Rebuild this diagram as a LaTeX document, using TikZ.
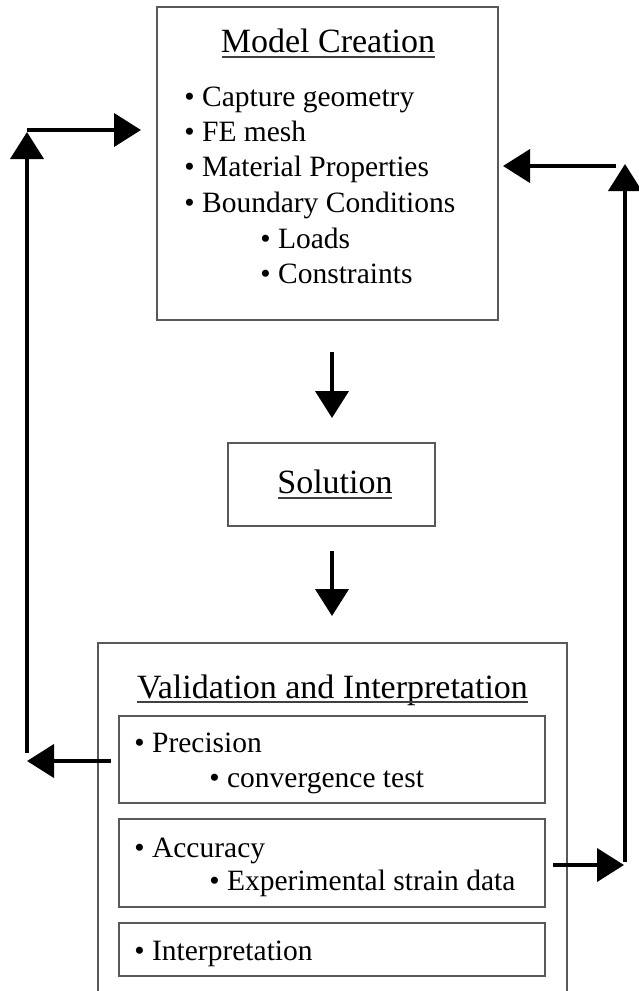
\documentclass[tikz,border=0pt]{standalone}
\usepackage{fontspec}
\setmainfont{Liberation Serif}
\usepackage{tikz}
\usetikzlibrary{arrows.meta,fit}

\newcommand{\ttlfont}{\fontsize{17}{20}\selectfont}
\newcommand{\itmfont}{\fontsize{14.75}{18}\selectfont}

\tikzset{
  box/.style={draw=black!65,line width=0.8pt,inner sep=0pt},
  ttl/.style={anchor=base,inner sep=0pt,font=\ttlfont},
  itm/.style={anchor=base west,inner sep=0pt,font=\itmfont},
  uline/.style={line width=0.7pt,draw=black!75},
  flow/.style={line width=2pt,-{Triangle[length=13.5pt,width=16.5pt]}}
}

\begin{document}
\begin{tikzpicture}[x=0.5pt,y=-0.5pt]
       \useasboundingbox (0,0) rectangle (638,991);

       %Model Creation
       \node[box,fit={(157,7) (498,320)}] (mc) {};
       \node[ttl] (mctitle) at (328,52) {Model Creation};
       \draw[uline] (222,57) -- (435,57);
       \node[itm] (cap) at (184,106) {• Capture geometry};
       \node[itm] (fe) at (184,141) {• FE mesh};
       \node[itm] (mat) at (184,176) {• Material Properties};
       \node[itm] (bc) at (184,212) {• Boundary Conditions};
       \node[itm] (lds) at (260,248) {• Loads};
       \node[itm] (cons) at (260,283) {• Constraints};

       %Solution
       \node[box,fit={(228,443) (435,526)}] (sol) {};
       \node[ttl] (soltitle) at (335,493) {Solution};
       \draw[uline] (278,498) -- (392,498);

       %Validation and Interpretation
       \draw[box] (98,991) -- (98,643) -- (567,643) -- (567,991);
       \node[ttl] (valtitle) at (332.5,698) {Validation and Interpretation};
       \draw[uline] (137,702) -- (528,702);
       \node[box,fit={(119,716) (545,803)}] (prec) {};
       \node[box,fit={(119,819) (545,907)}] (acc) {};
       \node[box,fit={(119,923) (545,976)}] (intp) {};
       \node[itm] (prectxt) at (134,752) {• Precision};
       \node[itm] (convtxt) at (209,787) {• convergence test};
       \node[itm] (acctxt) at (134,857) {• Accuracy};
       \node[itm] (exptxt) at (209,890) {• Experimental strain data};
       \node[itm] (intptxt) at (134,960) {• Interpretation};

       %arrows
       \coordinate (d1a) at (332,352);
       \coordinate (d1b) at (332,418);
       \coordinate (d2a) at (332,551);
       \coordinate (d2b) at (332,616);
       \draw[flow] (d1a) -- (d1b);
       \draw[flow] (d2a) -- (d2b);

       \coordinate (la) at (111,761);
       \coordinate (lb) at (27,761);
       \coordinate (lc) at (27,753);
       \coordinate (ld) at (27,132);
       \coordinate (le) at (27,130);
       \coordinate (lf) at (141,130);
       \draw[flow] (la) -- (lb);
       \draw[flow] (lc) -- (ld);
       \draw[flow] (le) -- (lf);

       \coordinate (ra) at (553,865);
       \coordinate (rb) at (624,865);
       \coordinate (rc) at (625,862);
       \coordinate (rd) at (625,164);
       \coordinate (re) at (616,166);
       \coordinate (rf) at (503,166);
       \draw[flow] (ra) -- (rb);
       \draw[flow] (rc) -- (rd);
       \draw[flow] (re) -- (rf);

\end{tikzpicture}
\end{document}
